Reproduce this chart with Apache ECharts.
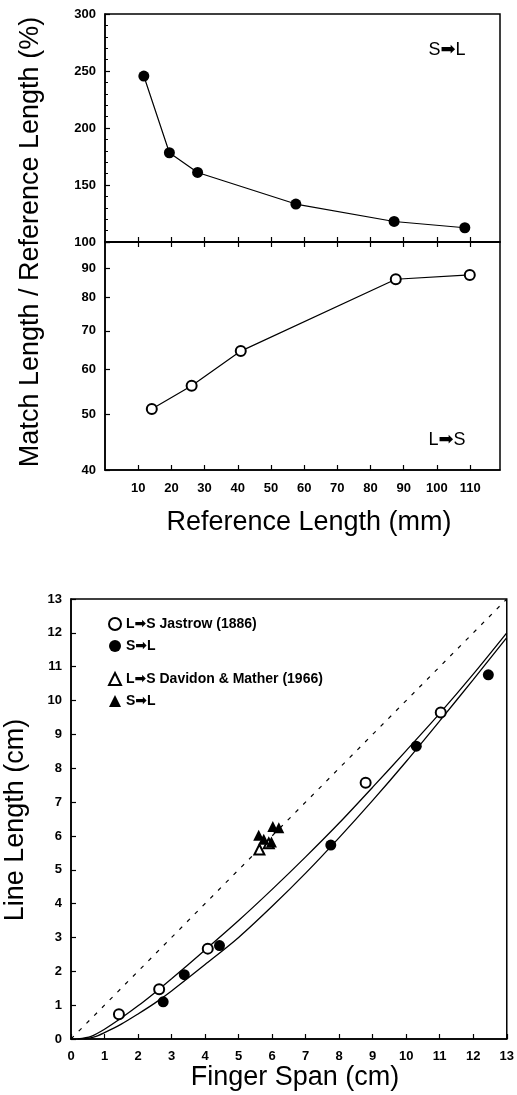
<!DOCTYPE html>
<html>
<head>
<meta charset="UTF-8">
<title>Match length / finger span</title>
<script src="https://cdn.jsdelivr.net/npm/echarts@6/dist/echarts.min.js"></script>
<style>
    html, body { margin: 0; padding: 0; background: #fff; }
    #chart { width: 517px; height: 1095px; }
</style>
</head>
<body>
<div id="chart"></div>
<script>
// top figure: S->L (filled) and L->S (open), reference length in mm
var refLenSL = [11.7, 19.4, 27.9, 57.5, 87.1, 108.4];
var ratioSL = [245.6, 178.3, 161, 133.3, 118, 112.5];
var refLenLS = [14.1, 26.1, 40.9, 87.6, 109.9];
var ratioLS = [51.1, 56.1, 64.5, 86.1, 87.6];
var refTicks = [10, 20, 30, 40, 50, 60, 70, 80, 90, 100, 110];
var logTicks = [40, 50, 60, 70, 80, 90, 100];
var logLabels = [40, 50, 60, 70, 80, 90];

// bottom figure: Jastrow (1886) circles, Davidon & Mather (1966) triangles
var jastLSx = [1.43, 2.63, 4.08, 8.79, 11.03];
var jastLSy = [0.73, 1.47, 2.67, 7.57, 9.65];
var jastSLx = [2.75, 3.38, 4.43, 7.75, 10.30, 12.45];
var jastSLy = [1.10, 1.90, 2.76, 5.73, 8.65, 10.76];
var davLSx = [5.62, 5.9];
var davLSy = [5.6, 5.78];
var davSLx = [5.6, 5.75, 5.98, 6.02, 6.2];
var davSLy = [6.02, 5.9, 5.82, 6.28, 6.24];

// the two fitted curves and the y = x line
var upperX = [0.2, 0.6, 1, 1.5, 2, 2.5, 3, 4, 5, 6, 7, 8, 9, 10, 11, 12, 13];
var upperY = [0, 0.08, 0.29, 0.62, 0.98, 1.37, 1.78, 2.63, 3.5, 4.42, 5.38, 6.38, 7.44, 8.52, 9.62, 10.78, 12.0];
var lowerX = [0.4, 0.7, 1, 1.5, 2, 2.5, 3, 4, 5, 6, 7, 8, 9, 10, 11, 12, 13];
var lowerY = [0, 0.06, 0.19, 0.44, 0.74, 1.06, 1.42, 2.2, 3.0, 3.92, 4.9, 5.95, 7.05, 8.2, 9.4, 10.62, 11.86];
var identX = [0, 13];
var identY = [0, 13];

function pairs(xs, ys) {
    return xs.map(function (x, i) { return [x, ys[i]]; });
}

var FONT = '"Liberation Sans", Arial, "DejaVu Sans", sans-serif';
var ARROW = '\u27A1';
var axisLine = { show: true, lineStyle: { color: '#000', width: 1.5 } };
var tickIn = { show: true, inside: true, length: 5, lineStyle: { color: '#000', width: 1.2 } };
var lbl = { color: '#000', fontFamily: FONT, fontWeight: 'bold', fontSize: 13 };
var openCircle = { color: '#fff', borderColor: '#000', borderWidth: 2, opacity: 1 };
var black = { color: '#000', opacity: 1 };

function titleText(text, x, y, size, rotate) {
    return {
        type: 'text', x: x, y: y, rotation: rotate ? Math.PI / 2 : 0,
        style: { text: text, font: size + 'px ' + FONT, fill: '#000', textAlign: 'center', textVerticalAlign: 'middle' }
    };
}

function legendName(n) {
    return n.indexOf('S→L') === 0 ? 'S' + ARROW + 'L' : n.replace('→', ARROW);
}

var chart = echarts.init(document.getElementById('chart'));
chart.setOption({
    animation: false,
    backgroundColor: '#fff',
    grid: [
        { left: 105, right: 17, top: 14, height: 228, show: true, borderColor: '#000', borderWidth: 1.5 },
        { left: 105, right: 17, top: 242, height: 228, show: true, borderColor: '#000', borderWidth: 1.5 },
        { left: 71, right: 2, top: 599, bottom: 56, show: true, borderColor: '#000', borderWidth: 1.5 }
    ],
    xAxis: [
        { gridIndex: 0, type: 'value', min: 0, max: 119, position: 'bottom', axisLine: axisLine,
          axisTick: Object.assign({ customValues: refTicks }, tickIn), axisLabel: { show: false }, splitLine: { show: false } },
        { gridIndex: 1, type: 'value', min: 0, max: 119, position: 'top', axisLine: axisLine,
          axisTick: Object.assign({ customValues: refTicks }, tickIn), axisLabel: { show: false }, splitLine: { show: false } },
        { gridIndex: 1, type: 'value', min: 0, max: 119, position: 'bottom', axisLine: axisLine,
          axisTick: Object.assign({ customValues: refTicks }, tickIn),
          axisLabel: Object.assign({ customValues: refTicks, margin: 12 }, lbl), splitLine: { show: false } },
        { gridIndex: 2, type: 'value', min: 0, max: 13, interval: 1, axisLine: axisLine, axisTick: tickIn,
          axisLabel: Object.assign({ margin: 11 }, lbl), splitLine: { show: false } }
    ],
    yAxis: [
        { gridIndex: 0, type: 'value', min: 100, max: 300, interval: 50, axisLine: axisLine, axisTick: tickIn,
          minorTick: { show: true, splitNumber: 5, length: 3, lineStyle: { color: '#000' } },
          axisLabel: Object.assign({ margin: 9 }, lbl), splitLine: { show: false } },
        { gridIndex: 1, type: 'log', logBase: 10, min: 40, max: 100, axisLine: axisLine,
          axisTick: Object.assign({ customValues: logTicks }, tickIn),
          axisLabel: Object.assign({ customValues: logLabels, margin: 9 }, lbl), splitLine: { show: false } },
        { gridIndex: 2, type: 'value', min: 0, max: 13, interval: 1, axisLine: axisLine, axisTick: tickIn,
          axisLabel: Object.assign({ margin: 9 }, lbl), splitLine: { show: false } }
    ],
    legend: [
        { left: 103, top: 612, orient: 'vertical', itemGap: 8, itemWidth: 12, itemHeight: 12,
          textStyle: { color: '#000', fontFamily: FONT, fontWeight: 'bold', fontSize: 14 },
          formatter: legendName,
          data: [
              { name: 'L→S Jastrow (1886)', icon: 'circle', itemStyle: openCircle },
              { name: 'S→L Jastrow', icon: 'circle', itemStyle: black }
          ] },
        { left: 103, top: 667, orient: 'vertical', itemGap: 8, itemWidth: 12, itemHeight: 12,
          textStyle: { color: '#000', fontFamily: FONT, fontWeight: 'bold', fontSize: 14 },
          formatter: legendName,
          data: [
              { name: 'L→S Davidon & Mather (1966)', icon: 'triangle', itemStyle: openCircle },
              { name: 'S→L Davidon', icon: 'triangle', itemStyle: black }
          ] }
    ],
    graphic: [
        titleText('Match Length / Reference Length (%)', 31, 242, 27, true),
        titleText('Reference Length (mm)', 309, 523, 27, false),
        titleText('S' + ARROW + 'L', 447, 50, 18, false),
        titleText('L' + ARROW + 'S', 447, 440, 18, false),
        titleText('Line Length (cm)', 16, 820, 27, true),
        titleText('Finger Span (cm)', 295, 1078, 27, false)
    ],
    series: [
        { name: 'top S→L', type: 'line', xAxisIndex: 0, yAxisIndex: 0, data: pairs(refLenSL, ratioSL),
          symbol: 'circle', symbolSize: 11, itemStyle: black, lineStyle: { color: '#000', width: 1.2 } },
        { name: 'top L→S', type: 'line', xAxisIndex: 2, yAxisIndex: 1, data: pairs(refLenLS, ratioLS),
          symbol: 'circle', symbolSize: 10, itemStyle: openCircle, lineStyle: { color: '#000', width: 1.2 } },
        { name: 'y = x', type: 'line', xAxisIndex: 3, yAxisIndex: 2, data: pairs(identX, identY),
          showSymbol: false, lineStyle: { color: '#000', width: 1.2, type: [4, 7] } },
        { name: 'upper fit', type: 'line', xAxisIndex: 3, yAxisIndex: 2, data: pairs(upperX, upperY),
          showSymbol: false, smooth: 0.3, lineStyle: { color: '#000', width: 1.3 } },
        { name: 'lower fit', type: 'line', xAxisIndex: 3, yAxisIndex: 2, data: pairs(lowerX, lowerY),
          showSymbol: false, smooth: 0.3, lineStyle: { color: '#000', width: 1.3 } },
        { name: 'L→S Jastrow (1886)', type: 'scatter', xAxisIndex: 3, yAxisIndex: 2, z: 5,
          data: pairs(jastLSx, jastLSy), symbol: 'circle', symbolSize: 10, itemStyle: openCircle },
        { name: 'S→L Jastrow', type: 'scatter', xAxisIndex: 3, yAxisIndex: 2, z: 5,
          data: pairs(jastSLx, jastSLy), symbol: 'circle', symbolSize: 11, itemStyle: black },
        { name: 'L→S Davidon & Mather (1966)', type: 'scatter', xAxisIndex: 3, yAxisIndex: 2, z: 5,
          data: pairs(davLSx, davLSy), symbol: 'triangle', symbolSize: 10, itemStyle: openCircle },
        { name: 'S→L Davidon', type: 'scatter', xAxisIndex: 3, yAxisIndex: 2, z: 6,
          data: pairs(davSLx, davSLy), symbol: 'triangle', symbolSize: 11, itemStyle: black }
    ]
});
</script>
</body>
</html>
